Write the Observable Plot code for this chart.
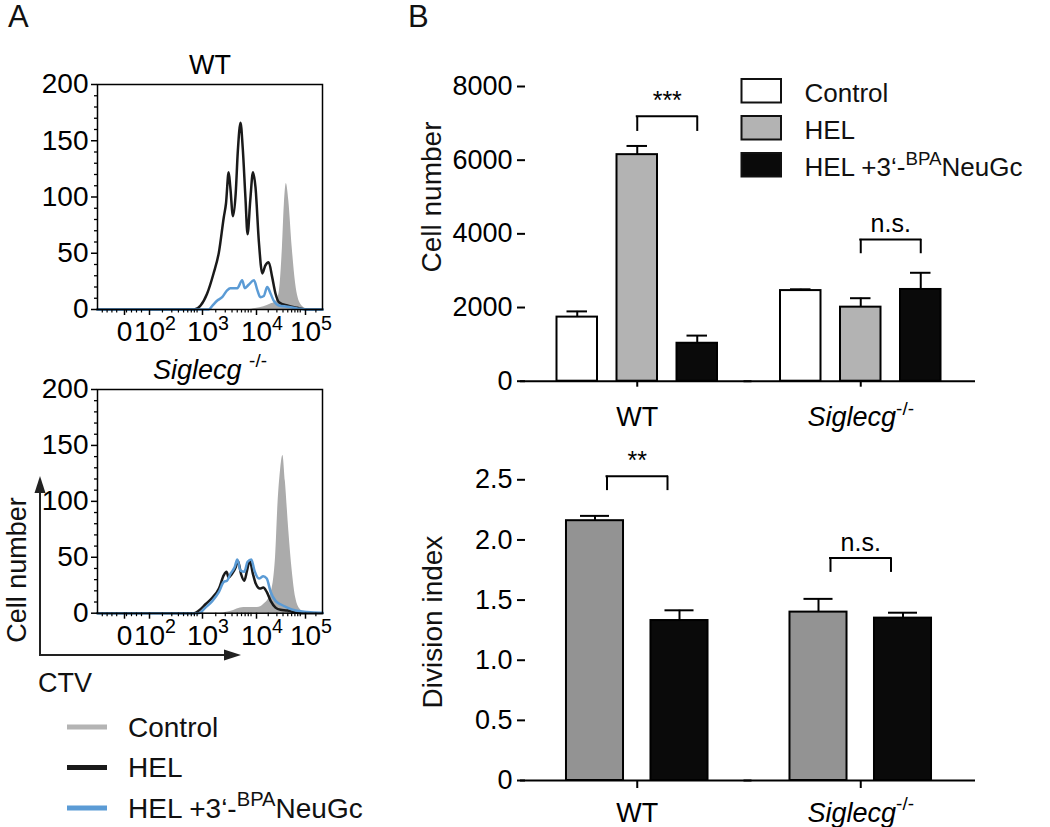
<!DOCTYPE html>
<html><head><meta charset="utf-8">
<script src="https://cdn.jsdelivr.net/npm/d3@7"></script>
<script src="https://cdn.jsdelivr.net/npm/@observablehq/plot@0.6"></script>
<style>
body{margin:0;background:#fff}
#root{position:relative;width:1050px;height:827px;overflow:hidden;background:#fff;font-family:'Liberation Sans',Arial,Helvetica,sans-serif}
#root svg{position:absolute}
</style></head><body><div id="root"></div>
<script>
const FONT = "'Liberation Sans', Arial, Helvetica, sans-serif";

// ---------- Panel A: CTV histograms (x = display position in decades, y = cell count) ----------
const histXDomain = [1.0, 1.5, 2, 3, 4, 5, 5.45];
const histTicks = [1.5, 2, 3, 4, 5];
const histTickLabels = ["0", "10^2", "10^3", "10^4", "10^5"];
const histYTicks = [0, 50, 100, 150, 200];
const histYMinor = [10,20,30,40,60,70,80,90,110,120,130,140,160,170,180,190];
const histXMinorLinear = [1.1, 1.2, 1.3, 1.4, 1.6, 1.7, 1.8, 1.9];

const wtControl = [[1.0,0],[3.9,0],[4.04,1],[4.21,2.5],[4.35,5],[4.45,7],[4.52,14],[4.59,55],[4.63,94],[4.67,112],[4.72,97],[4.79,55],[4.86,23],[4.96,5],[5.07,1],[5.18,0],[5.45,0]];
const wtHEL = [[1.0,0],[2.9,0],[3.02,3.5],[3.14,14],[3.26,32],[3.36,51],[3.45,82],[3.49,94],[3.54,122],[3.57,109],[3.62,83],[3.67,103],[3.71,141],[3.76,166],[3.80,144],[3.85,100],[3.89,67],[3.94,97],[3.99,122],[4.04,109],[4.11,60],[4.18,32],[4.24,39],[4.31,42],[4.38,29],[4.45,14],[4.52,6.5],[4.69,3.5],[4.89,1.5],[5.10,0],[5.45,0]];
const wtBPA = [[1.0,0],[3.17,0],[3.24,3.5],[3.33,8],[3.42,11],[3.51,17],[3.57,19],[3.70,19],[3.79,26],[3.84,19],[3.91,22],[4.01,26],[4.08,17],[4.14,11],[4.21,12],[4.28,20],[4.35,14],[4.41,8],[4.52,3.5],[4.69,2.5],[4.89,1],[5.10,0],[5.45,0]];
const koControl = [[1.0,0],[3.39,0],[3.57,1.5],[3.82,5],[4.08,5],[4.21,8],[4.35,17],[4.45,50],[4.50,98],[4.55,127],[4.60,141],[4.65,118],[4.72,74],[4.79,38],[4.86,14],[4.96,3],[5.07,0.5],[5.18,0],[5.45,0]];
const koHEL = [[1.0,0],[2.9,0],[2.99,2.4],[3.11,8],[3.24,14],[3.36,22],[3.45,34],[3.50,37],[3.54,32],[3.60,35],[3.67,41],[3.71,47],[3.77,35],[3.83,29],[3.88,38],[3.93,47],[3.99,35],[4.05,26],[4.13,22],[4.20,23],[4.27,19],[4.35,11],[4.45,5],[4.55,3],[4.69,2.4],[4.82,1],[4.96,0],[5.45,0]];
const koBPA = [[1.0,0],[2.99,0],[3.11,5],[3.24,11],[3.36,19],[3.45,28],[3.51,29],[3.57,35],[3.65,41],[3.70,48],[3.76,38],[3.83,37],[3.89,46],[3.96,48],[4.02,38],[4.11,31],[4.20,33],[4.27,31],[4.35,19],[4.45,11],[4.55,8],[4.69,5],[4.86,2.4],[5.10,1],[5.40,0.5],[5.45,0.5]];

const seriesLabels = [["Control"], ["HEL"], ["HEL +3‘-", "BPA", "NeuGc"]];
const histColors = ["#b4b4b4", "#1a1a1a", "#5b9bd5"];

// ---------- Panel B: bar charts ----------
const groups = ["WT", "Siglecg-/-"];
const groupLabels = ["WT", "Siglecg^-/-"];
const cellConditions = ["Control", "HEL", "HEL+BPA"];
const cellColors = ["#ffffff", "#b3b3b3", "#0a0a0a"];
const cellWT = [1740, 6150, 1030];
const cellWTErr = [155, 236, 208];
const cellKO = [2460, 2010, 2490];
const cellKOErr = [35, 243, 453];
const cellTicks = [0, 2000, 4000, 6000, 8000];
const cellBrackets = [
  {group: "WT", from: "HEL", to: "HEL+BPA", low: 6780, high: 7190, label: "***"},
  {group: "Siglecg-/-", from: "HEL", to: "HEL+BPA", low: 3460, high: 3850, label: "n.s."}
];

const divConditions = ["HEL", "HEL+BPA"];
const divColors = ["#939393", "#0a0a0a"];
const divWT = [2.16, 1.33];
const divWTErr = [0.04, 0.085];
const divKO = [1.40, 1.35];
const divKOErr = [0.11, 0.045];
const divTicks = [0, 0.5, 1.0, 1.5, 2.0, 2.5];
const divBrackets = [
  {group: "WT", from: "HEL", to: "HEL+BPA", low: 2.41, high: 2.53, label: "**"},
  {group: "Siglecg-/-", from: "HEL", to: "HEL+BPA", low: 1.73, high: 1.85, label: "n.s."}
];

// ---------- helpers ----------
const root = document.getElementById("root");

function place(svg, left, top) {
  svg.style.left = left + "px";
  svg.style.top = top + "px";
  root.appendChild(svg);
  richify(svg);
  return svg;
}

function richify(svg) {
  d3.select(svg).selectAll("text").each(function () {
    const el = this;
    const raw = el.textContent;
    if (!raw.includes("^") && !raw.includes("Siglecg")) return;
    const [base, sup] = raw.split("^");
    const fs = parseFloat(getComputedStyle(el).fontSize) || 27;
    const sel = d3.select(el);
    sel.text(null);
    const b = sel.append("tspan").text(base);
    if (base.includes("Siglecg")) b.attr("font-style", "italic");
    if (sup !== undefined) {
      const s = sel.append("tspan").text(sup).attr("font-size", fs * 0.7).attr("dy", -fs * 0.42);
      const lab = (el.parentNode && el.parentNode.getAttribute("aria-label")) || "";
      if (lab.includes("tick label")) {
        const w = s.node().getComputedTextLength();
        b.attr("dx", w / 2);
      }
    }
  });
}

function histPanel({top, height, frameTop, frameBottom, title, control, hel, bpa}) {
  const width = 340, left = 97, right = 322;
  const xMinor = histXMinorLinear.concat(
    [2, 3, 4].flatMap(d => d3.range(2, 10).map(k => d + Math.log10(k))), [5 + Math.log10(2)]);
  const fmt = d => histTickLabels[histTicks.indexOf(d)];
  return Plot.plot({
    width, height,
    marginLeft: left, marginRight: width - right,
    marginTop: frameTop - top, marginBottom: top + height - frameBottom,
    style: {fontFamily: FONT, background: "transparent", overflow: "visible"},
    x: {type: "linear", domain: histXDomain, range: [left, 121, 146, 199, 253, 302, right]},
    y: {domain: [0, 200]},
    marks: [
      Plot.areaY(control, {x: d => d[0], y: d => d[1], fill: "#ababab", curve: "monotone-x"}),
      Plot.lineY(hel, {x: d => d[0], y: d => d[1], stroke: histColors[1], strokeWidth: 2.5, curve: "monotone-x"}),
      Plot.lineY(bpa, {x: d => d[0], y: d => d[1], stroke: histColors[2], strokeWidth: 2.5, curve: "monotone-x"}),
      Plot.frame({stroke: "#000", strokeWidth: 1.5}),
      Plot.axisY({ticks: histYMinor, tickSize: 3, tickFormat: () => "", label: null, strokeWidth: 1.3}),
      Plot.axisY({ticks: histYTicks, tickSize: 6, tickPadding: 3, fontSize: 28, label: null, strokeWidth: 1.5}),
      Plot.axisX({ticks: xMinor, tickSize: 3.5, tickFormat: () => "", label: null, strokeWidth: 1.2}),
      Plot.axisX({ticks: histTicks, tickFormat: fmt, tickSize: 6, tickPadding: 6, fontSize: 28, label: null,
                  strokeWidth: 1.5, dx: 3}),
      Plot.text([title], {frameAnchor: "top", dy: -11, lineAnchor: "bottom", fontSize: 27})
    ]
  });
}

function barPanel({rows, conds, colors, yDomain, yTicks, yFmt, brackets, top, height, yTop, yBottom,
                   paddingOuter, capInset, tickSize, fxPadding, bracketInset}) {
  const width = 600, marginLeft = 125, marginRight = 28;
  const paddingInner = 0.325;
  const facetW = (width - marginLeft - marginRight) / groups.length;
  const step = facetW / (conds.length - paddingInner + 2 * paddingOuter);
  const bw = step * (1 - paddingInner);
  return Plot.plot({
    width, height, marginLeft, marginRight,
    marginTop: yTop - top, marginBottom: top + height - yBottom,
    style: {fontFamily: FONT, background: "transparent", overflow: "visible"},
    fx: {domain: groups, padding: 0, round: false},
    x: {domain: conds, paddingInner, paddingOuter, round: false, axis: null},
    y: {domain: yDomain},
    color: {domain: conds, range: colors},
    marks: [
      Plot.ruleX(rows, {fx: "group", x: "condition", y1: "value", y2: d => d.value + d.err, strokeWidth: 2}),
      Plot.tickY(rows, {fx: "group", x: "condition", y: d => d.value + d.err, insetLeft: capInset, insetRight: capInset, strokeWidth: 2}),
      Plot.barY(rows, {fx: "group", x: "condition", y: "value", fill: "condition", stroke: "#000", strokeWidth: 2}),
      Plot.ruleY([yDomain[0]], {strokeWidth: 2, insetLeft: -5, insetRight: -3}),
      // significance brackets
      Plot.ruleX(brackets, {fx: "group", x: "from", y1: "low", y2: "high", dx: bracketInset, strokeWidth: 2}),
      Plot.ruleX(brackets, {fx: "group", x: "to", y1: "low", y2: "high", dx: -bracketInset, strokeWidth: 2}),
      Plot.ruleY(brackets, {fx: "group", x1: "from", x2: "to", y: "high", strokeWidth: 2, strokeLinecap: "square",
                            insetLeft: bw / 2 + bracketInset, insetRight: bw / 2 + bracketInset}),
      Plot.text(brackets, {fx: "group", x: "from", y: "high", text: "label", dx: step / 2, dy: -7,
                           lineAnchor: "bottom", fontSize: 25}),
      Plot.axisY({ticks: yTicks, tickFormat: yFmt, tickSize: 8, tickPadding: 5, fontSize: 27,
                  label: null, line: true, strokeWidth: 2}),
      Plot.axisFx({anchor: "bottom", tickSize, tickPadding: fxPadding, fontSize: 27, label: null, strokeWidth: 2,
                   tickFormat: d => groupLabels[groups.indexOf(d)]})
    ]
  });
}

// ---------- Panel A ----------
place(histPanel({top: 30, height: 330, frameTop: 84, frameBottom: 309, title: "WT",
                 control: wtControl, hel: wtHEL, bpa: wtBPA}), 0, 30);
place(histPanel({top: 340, height: 320, frameTop: 389, frameBottom: 612.7, title: "Siglecg ^-/-",
                 control: koControl, hel: koHEL, bpa: koBPA}), 0, 340);

// ---------- Panel B ----------
const cellRows = [];
cellConditions.forEach((c, i) => {
  cellRows.push({group: groups[0], condition: c, value: cellWT[i], err: cellWTErr[i]});
  cellRows.push({group: groups[1], condition: c, value: cellKO[i], err: cellKOErr[i]});
});
const divRows = [];
divConditions.forEach((c, i) => {
  divRows.push({group: groups[0], condition: c, value: divWT[i], err: divWTErr[i]});
  divRows.push({group: groups[1], condition: c, value: divKO[i], err: divKOErr[i]});
});

place(barPanel({rows: cellRows, conds: cellConditions, colors: cellColors, yDomain: [0, 8000], yTicks: cellTicks,
                yFmt: d => String(d), brackets: cellBrackets, top: 40, height: 420, yTop: 86, yBottom: 380.7,
                paddingOuter: 0.525, capInset: 10, tickSize: 6, fxPadding: 20, bracketInset: 0}), 400, 40);
place(barPanel({rows: divRows, conds: divConditions, colors: divColors, yDomain: [0, 2.5], yTicks: divTicks,
                yFmt: d => d === 0 ? "0" : d.toFixed(1), brackets: divBrackets, top: 440, height: 387, yTop: 479.3, yBottom: 780,
                paddingOuter: 0.485, capInset: 14, tickSize: 8, fxPadding: 14, bracketInset: 12}), 400, 440);

// ---------- overlay: panel letters, axis titles, arrows, legends ----------
const ov = d3.create("svg").attr("width", 1050).attr("height", 827)
  .style("left", "0px").style("top", "0px").style("pointer-events", "none")
  .attr("font-family", FONT).attr("fill", "#111");

function richText(g, x, y, parts, fs) {
  const t = g.append("text").attr("x", x).attr("y", y).attr("font-size", fs);
  parts.forEach((p, i) => {
    const sp = t.append("tspan").text(p);
    if (i % 2 === 1) sp.attr("font-size", fs * 0.72).attr("dy", -fs * 0.4);
    else if (i > 0) sp.attr("dy", fs * 0.4);
  });
  return t;
}

ov.append("text").attr("x", 8).attr("y", 27).attr("font-size", 31).text("A");
ov.append("text").attr("x", 408).attr("y", 27).attr("font-size", 31).text("B");

// axis titles
ov.append("text").attr("transform", "translate(26,570) rotate(-90)").attr("text-anchor", "middle")
  .attr("font-size", 27).text("Cell number");
ov.append("text").attr("x", 38).attr("y", 692).attr("font-size", 27).text("CTV");
ov.append("text").attr("transform", "translate(441,197) rotate(-90)").attr("text-anchor", "middle")
  .attr("font-size", 28).text("Cell number");
ov.append("text").attr("transform", "translate(441.5,622) rotate(-90)").attr("text-anchor", "middle")
  .attr("font-size", 28).text("Division index");

// CTV / Cell number arrows
ov.append("path").attr("d", "M40,655V490M39,655H228").attr("stroke", "#222").attr("stroke-width", 2).attr("fill", "none");
ov.append("path").attr("d", "M40,476L34.5,493L45.5,493Z").attr("fill", "#222");
ov.append("path").attr("d", "M241,655L224,649.5L224,660.5Z").attr("fill", "#222");

// Legend A
seriesLabels.forEach((parts, i) => {
  const y = 727 + i * 40.5;
  ov.append("line").attr("x1", 67).attr("x2", 107).attr("y1", y).attr("y2", y)
    .attr("stroke", histColors[i]).attr("stroke-width", 5);
  richText(ov, 128, y + 9.5, parts, 28);
});

// Legend B
seriesLabels.forEach((parts, i) => {
  const y = 79 + i * 37;
  ov.append("rect").attr("x", 741.5).attr("y", y).attr("width", 39.5).attr("height", 23.5)
    .attr("fill", cellColors[i]).attr("stroke", "#111").attr("stroke-width", 2);
  richText(ov, 804.5, y + 22.5, parts, 26);
});

root.appendChild(ov.node());
</script></body></html>
